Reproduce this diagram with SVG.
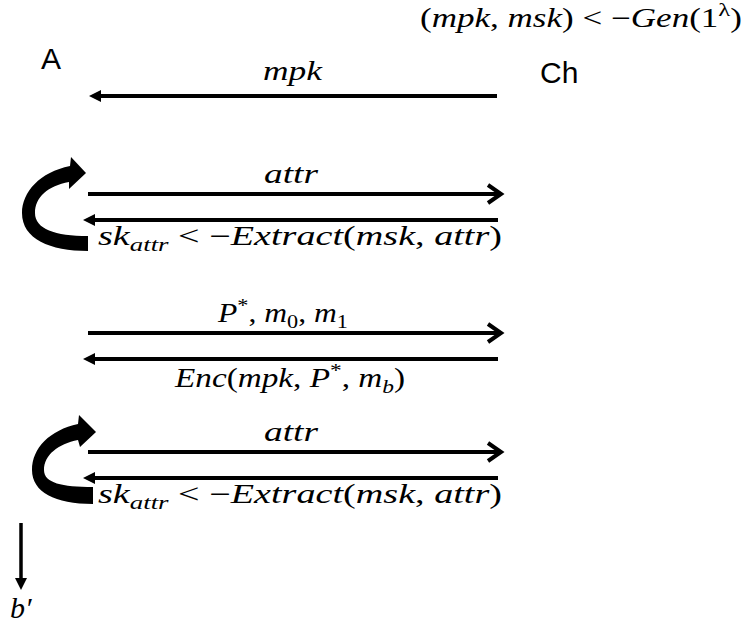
<svg xmlns="http://www.w3.org/2000/svg" width="745" height="625" viewBox="0 0 745 625">
<style>
  .lbl { font-family: "Liberation Sans", Arial, sans-serif; font-size: 30px; fill: #000; }
  .math { font-family: "Liberation Serif", "Times New Roman", serif; font-style: italic; font-size: 27px; fill: #000; }
  .up { font-style: normal; }
  .sub { font-size: 19px; }
  .ln { stroke: #000; stroke-width: 4; fill: none; }
</style>
<defs>
  <marker id="tri" markerUnits="userSpaceOnUse" viewBox="0 0 12 12" markerWidth="12" markerHeight="12" refX="4" refY="6" orient="auto">
    <path d="M0,0 L12,6 L0,12 Z" fill="#000"/>
  </marker>
  <marker id="chev" markerUnits="userSpaceOnUse" viewBox="-18 -12 22 24" markerWidth="22" markerHeight="24" refX="0" refY="0" orient="auto">
    <path d="M-13,-9 L0,0 L-13,9" fill="none" stroke="#000" stroke-width="4"/>
  </marker>
</defs>
<rect width="745" height="625" fill="#fff"/>

<g id="node-A"><text class="lbl" x="41" y="69">A</text></g>
<g id="node-Ch"><text class="lbl" x="540" y="83">Ch</text></g>
<g id="setup"><text class="math" x="420" y="27" textLength="322" lengthAdjust="spacingAndGlyphs"><tspan class="up">(</tspan>mpk<tspan class="up">, </tspan>msk<tspan class="up">) &lt; −</tspan>Gen<tspan class="up">(1</tspan><tspan class="up sub" dy="-11">λ</tspan><tspan class="up" dy="11">)</tspan></text></g>

<g id="connectors">
  <path class="ln" d="M497,96 H97" marker-end="url(#tri)"/>
  <path class="ln" d="M88,194 H501" marker-end="url(#chev)"/>
  <path class="ln" d="M498,220 H91" marker-end="url(#tri)"/>
  <path class="ln" d="M88,333 H501" marker-end="url(#chev)"/>
  <path class="ln" d="M498,359 H91" marker-end="url(#tri)"/>
  <path class="ln" d="M88,452 H501" marker-end="url(#chev)"/>
  <path class="ln" d="M498,478 H91" marker-end="url(#tri)"/>
  <path class="ln" style="stroke-width:3.5" d="M21,523 V582" marker-end="url(#tri)"/>
  <path id="loop1" d="M88,251 C50,251 22,239 22,213 C22,192 40,172 70,166 L71,157 L86,173 L69,189 L69,182 C48,186 35,197 35,213 C35,229 55,236 88,236 Z" fill="#000"/>
  <path id="loop2" d="M93,504 C55,504 32,492 32,470 C32,448 50,430 78,424 L79,415 L96,432 L80,447 L78,440 C58,444 44,455 44,470 C44,483 62,487 93,487 Z" fill="#000"/>
</g>

<g id="labels">
  <text class="math" x="263" y="80" textLength="59" lengthAdjust="spacingAndGlyphs">mpk</text>
  <text class="math" x="264" y="183" textLength="54" lengthAdjust="spacingAndGlyphs">attr</text>
  <text class="math" x="98" y="245" textLength="404" lengthAdjust="spacingAndGlyphs">sk<tspan class="sub" dy="6">attr</tspan><tspan class="up" dy="-6"> &lt; −</tspan>Extract<tspan class="up">(</tspan>msk<tspan class="up">, </tspan>attr<tspan class="up">)</tspan></text>
  <text class="math" x="218" y="322" textLength="130" lengthAdjust="spacingAndGlyphs">P<tspan class="up sub" dy="-10">*</tspan><tspan class="up" dy="10">, </tspan>m<tspan class="up sub" dy="6">0</tspan><tspan class="up" dy="-6">, </tspan>m<tspan class="up sub" dy="6">1</tspan></text>
  <text class="math" x="175" y="387" textLength="230" lengthAdjust="spacingAndGlyphs">Enc<tspan class="up">(</tspan>mpk<tspan class="up">, </tspan>P<tspan class="up sub" dy="-10">*</tspan><tspan class="up" dy="10">, </tspan>m<tspan class="sub" dy="6">b</tspan><tspan class="up" dy="-6">)</tspan></text>
  <text class="math" x="264" y="441" textLength="54" lengthAdjust="spacingAndGlyphs">attr</text>
  <text class="math" x="98" y="503" textLength="404" lengthAdjust="spacingAndGlyphs">sk<tspan class="sub" dy="6">attr</tspan><tspan class="up" dy="-6"> &lt; −</tspan>Extract<tspan class="up">(</tspan>msk<tspan class="up">, </tspan>attr<tspan class="up">)</tspan></text>
  <text class="math" style="font-size:30px" x="10" y="618">b′</text>
</g>
</svg>
